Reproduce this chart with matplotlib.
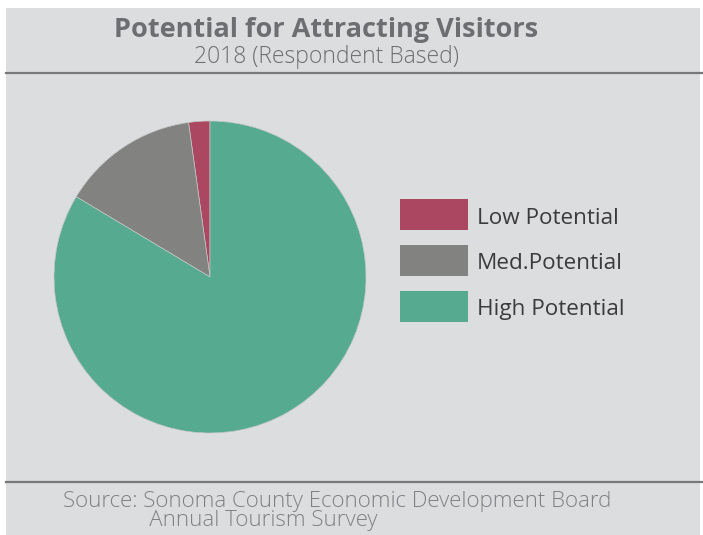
import matplotlib
matplotlib.use("Agg")
import matplotlib.pyplot as plt
from matplotlib.patches import Rectangle
from matplotlib.lines import Line2D

# Survey shares (percent of respondents)
categories = ["Low Potential", "Med.Potential", "High Potential"]
shares = [2.2, 14.2, 83.6]
colors = ["#ab4760", "#828381", "#56aa8f"]

title = "Potential for Attracting Visitors"
subtitle = "2018 (Respondent Based)"
source_lines = ["Source: Sonoma County Economic Development Board",
                "Annual Tourism Survey"]

W, H = 703, 535
fig = plt.figure(figsize=(W / 100, H / 100), dpi=100)
fig.patch.set_facecolor("white")

def px(x, y):
    """Pixel position (from top-left) to figure fraction."""
    return x / W, 1 - y / H

# Panel background
bg = Rectangle(px(6, 535), (700 - 6) / W, (535 - 8) / H, transform=fig.transFigure,
               facecolor="#dcdddf", edgecolor="none", zorder=-5)
fig.patches.append(bg)

# Rule lines under the header and above the source
for y in (72.5, 481.5):
    x0, yy = px(6, y)
    x1, _ = px(703, y)
    fig.lines.append(Line2D([x0, x1], [yy, yy], transform=fig.transFigure,
                            color="#77787a", linewidth=1.6, zorder=1))

FONT = "Open Sans"

# Header
tx, ty = px(326, 30)
fig.text(tx, ty, title, ha="center", va="center", fontsize=19.5,
         fontweight="bold", color="#6d6e71", family=FONT)
sx, sy = px(326, 57)
fig.text(sx, sy, subtitle, ha="center", va="center", fontsize=16.5,
         fontweight="light", color="#6d6e71", family=FONT)

# Source note: two lines, the second one indented
source_text = source_lines[0] + "\n" + " " * 15 + source_lines[1]
fx, fy = px(63, 491)
fig.text(fx, fy, source_text, ha="left", va="top", fontsize=16,
         fontweight="light", color="#808184", family=FONT,
         linespacing=0.9, multialignment="left")

# Pie
cx, cy, r = 210, 277, 156
ax = fig.add_axes([(cx - r) / W, 1 - (cy + r) / H, 2 * r / W, 2 * r / H])
ax.set_facecolor("none")
wedges, _ = ax.pie(shares, colors=colors, startangle=90, counterclock=True,
                   radius=1, wedgeprops=dict(linewidth=0.5, edgecolor="#c4c6c5"))
ax.set_xlim(-1, 1)
ax.set_ylim(-1, 1)
ax.set_aspect("equal")
ax.axis("off")

# Legend
box_tops = [199, 245, 291]
for label, color, top in zip(categories, colors, box_tops):
    bx, by = px(400, top + 31)
    fig.patches.append(Rectangle((bx, by), 68 / W, 31 / H, transform=fig.transFigure,
                                 facecolor=color, edgecolor="none", zorder=2))
    lx, ly = px(477, top + 19)
    fig.text(lx, ly, label, ha="left", va="center", fontsize=16.2,
             color="#3b3b3d", family=FONT)

fig.savefig("out.png", dpi=100, facecolor=fig.get_facecolor())
